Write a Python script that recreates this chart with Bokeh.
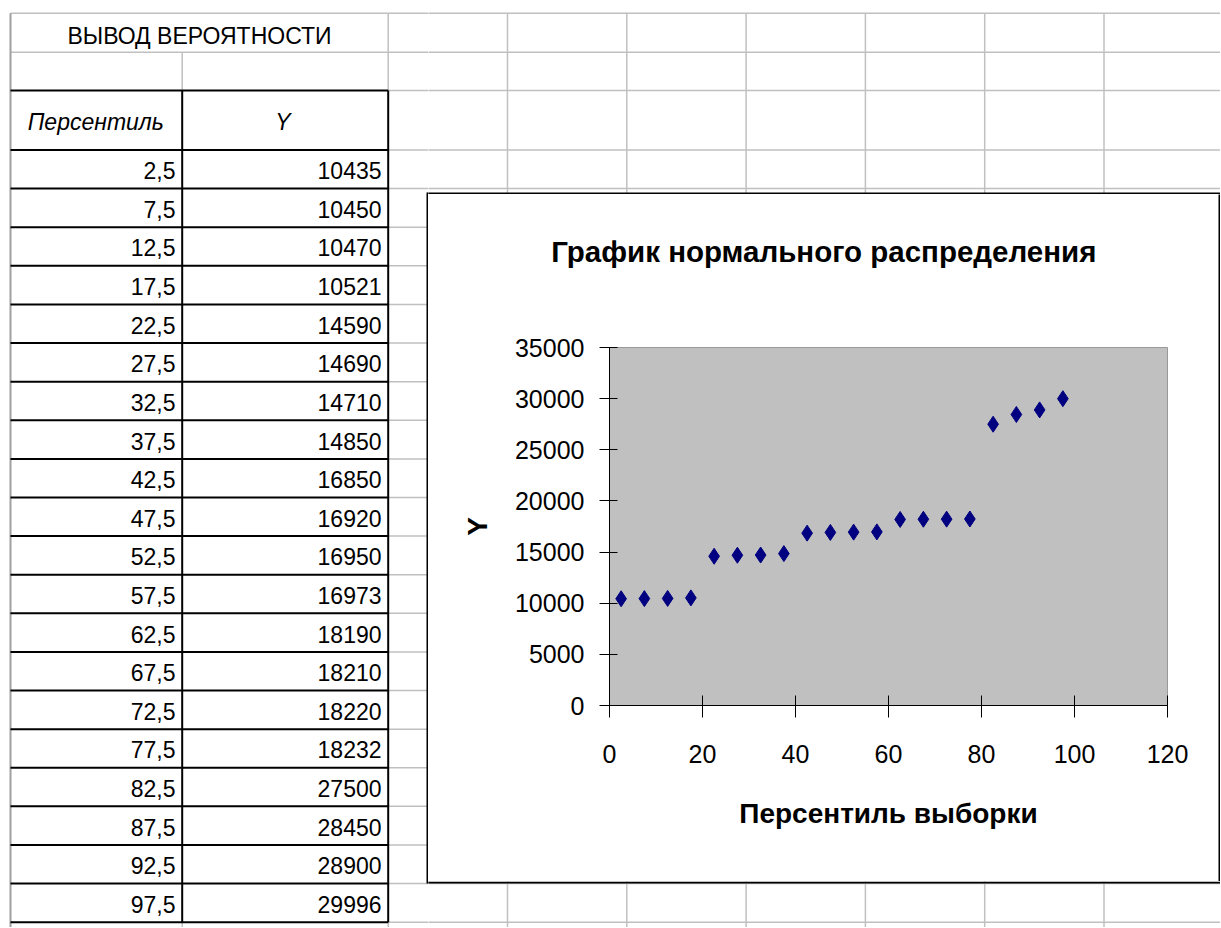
from bokeh.plotting import figure
from bokeh.models import Range1d, ColumnDataSource, FixedTicker, NumeralTickFormatter
from bokeh.layouts import row, column
from bokeh.embed import file_html
from bokeh.resources import INLINE
from bokeh.core.properties import value

# ---------------- data ----------------
percentiles = [2.5, 7.5, 12.5, 17.5, 22.5, 27.5, 32.5, 37.5, 42.5, 47.5,
               52.5, 57.5, 62.5, 67.5, 72.5, 77.5, 82.5, 87.5, 92.5, 97.5]
y_values = [10435, 10450, 10470, 10521, 14590, 14690, 14710, 14850, 16850, 16920,
            16950, 16973, 18190, 18210, 18220, 18232, 27500, 28450, 28900, 29996]
x_ticks = [0, 20, 40, 60, 80, 100, 120]
y_ticks = [0, 5000, 10000, 15000, 20000, 25000, 30000, 35000]
sheet_title = "ВЫВОД ВЕРОЯТНОСТИ"
col_headers = ["Персентиль", "Y"]
chart_title = "График нормального распределения"
x_label = "Персентиль выборки"
y_label = "Y"

# ---------------- page geometry (page pixels) ----------------
W, H = 1220, 927
LEFT_W = 428            # spreadsheet columns A-B and the strip left of the chart box
TOP_H = 194             # rows above the chart box
BOX_R = 1218            # right border of chart box starts here
TITLE_H = 106           # white band with the chart title
CHART_H = 581           # chart figure (axes + plot area)
BOTTOM_Y = TOP_H + TITLE_H + CHART_H   # 881

COL_X = [10, 181.7, 387.7] + [507 + 119.3 * i for i in range(6)]
HEAD_Y = [12.7, 51.7, 90.0]
ROW_H = 38.61
DATA_Y = [149.5 + ROW_H * k for k in range(len(percentiles) + 1)]
TABLE_R = COL_X[2]

GRID = "#c0c0c0"
FONT = "Liberation Sans"
TFS = 23  # table font size

gray_h = [(COL_X[0], y, W, y) for y in HEAD_Y[:2]]
gray_h += [(TABLE_R, y, W, y) for y in [HEAD_Y[2]] + DATA_Y]
black_h = [(COL_X[0], y, TABLE_R, y) for y in [HEAD_Y[2]] + DATA_Y]
gray_v = [(COL_X[1], HEAD_Y[1], COL_X[1], HEAD_Y[2]),
          (COL_X[2], HEAD_Y[0], COL_X[2], HEAD_Y[2]),
          (COL_X[1], DATA_Y[-1], COL_X[1], H),
          (COL_X[2], DATA_Y[-1], COL_X[2], H)]
gray_v += [(x, HEAD_Y[0], x, H) for x in COL_X[3:]]
edge_v = [(COL_X[0], HEAD_Y[0], COL_X[0], H)]
black_v = [(COL_X[1], HEAD_Y[2], COL_X[1], DATA_Y[-1]),
           (COL_X[2], HEAD_Y[2], COL_X[2], DATA_Y[-1])]
box = [(427, 192, 427, 883), (427, 193, W, 193), (427, 882, W, 882)]


def seg_source(segs):
    return ColumnDataSource(dict(x0=[s[0] for s in segs], y0=[s[1] for s in segs],
                                 x1=[s[2] for s in segs], y1=[s[3] for s in segs]))


def fmt_pct(v):
    return ("%.1f" % v).replace(".", ",")


def blank_fig(x0, x1, y0, y1, fill="white"):
    p = figure(width=int(x1 - x0), height=int(y1 - y0),
               x_range=Range1d(x0, x1), y_range=Range1d(y1, y0),
               output_backend="svg", toolbar_location=None, title_location=None,
               x_axis_location=None, y_axis_location=None, min_border=0,
               frame_align=False)
    p.outline_line_color = None
    p.grid.visible = False
    p.background_fill_color = fill
    p.border_fill_color = fill
    return p


def sheet_fig(x0, x1, y0, y1):
    p = blank_fig(x0, x1, y0, y1)
    kw = dict(x0="x0", y0="y0", x1="x1", y1="y1")
    p.segment(source=seg_source(gray_h), line_color=GRID, line_width=1.5, **kw)
    p.segment(source=seg_source(gray_v), line_color=GRID, line_width=1.5, **kw)
    p.segment(source=seg_source(edge_v), line_color="#a0a0a0", line_width=2, **kw)
    p.segment(source=seg_source(black_h), line_color="black", line_width=2, **kw)
    p.segment(source=seg_source(black_v), line_color="black", line_width=2, **kw)
    p.segment(source=seg_source(box), line_color="black", line_width=2, **kw)
    return p


def mid(baseline, size):
    return baseline - 0.35 * size


# ---------------- left part: the table ----------------
left = sheet_fig(0, LEFT_W, 0, H)
tkw = dict(text_baseline="middle", text_font=value(FONT), text_font_size=value("%dpx" % TFS),
           text_color="black")
left.text(x=[199], y=[mid(43.3, TFS)], text=[sheet_title], text_align="center", **tkw)
left.text(x=[95.3, 282.5], y=[mid(130, TFS)] * 2, text=col_headers, text_align="center",
          text_font_style="italic", **tkw)
row_mid = [mid(DATA_Y[k] + 28.8, TFS) for k in range(len(percentiles))]
left.text(x=[175] * len(percentiles), y=row_mid, text=[fmt_pct(v) for v in percentiles],
          text_align="right", **tkw)
left.text(x=[381] * len(y_values), y=row_mid, text=[str(v) for v in y_values],
          text_align="right", **tkw)

top = sheet_fig(LEFT_W, W, 0, TOP_H)
bottom = sheet_fig(LEFT_W, W, BOTTOM_Y, H)
right_edge = blank_fig(BOX_R, W, TOP_H, BOTTOM_Y, fill="black")

# ---------------- chart title band ----------------
title_band = blank_fig(LEFT_W, BOX_R, TOP_H, TOP_H + TITLE_H)
title_band.text(x=[823.3], y=[mid(261.7, 29.5)], text=[chart_title], text_align="center",
                text_baseline="middle", text_font=value(FONT), text_font_size=value("29.5px"),
                text_font_style="bold", text_color="black")

# ---------------- chart ----------------
CHART_W = BOX_R - LEFT_W
FL, FW, FT, FH = 181, 558, 47, 358
chart = figure(width=CHART_W, height=CHART_H, x_range=Range1d(0, 120), y_range=Range1d(0, 35000),
               output_backend="svg", toolbar_location=None, title_location=None,
               min_border_left=FL, min_border_right=CHART_W - FL - FW,
               min_border_top=FT, min_border_bottom=CHART_H - FT - FH,
               frame_align=False)
chart.background_fill_color = "#c0c0c0"
chart.border_fill_color = "white"
chart.outline_line_color = "#999999"
chart.outline_line_width = 1
chart.grid.visible = False

chart.scatter(percentiles, y_values, marker="diamond", size=16,
              fill_color="#000080", line_color="#000080")

xa = chart.xaxis[0]
xa.ticker = FixedTicker(ticks=x_ticks)
xa.axis_line_color = "black"
xa.major_tick_line_color = "black"
xa.minor_tick_line_color = None
xa.major_tick_in = 10
xa.major_tick_out = 12
xa.major_label_standoff = 27
xa.major_label_text_font = FONT
xa.major_label_text_font_size = "25px"
xa.major_label_text_color = "black"
xa.axis_label = x_label
xa.axis_label_text_font = FONT
xa.axis_label_text_font_size = "28px"
xa.axis_label_text_font_style = "bold"
xa.axis_label_text_color = "black"
xa.axis_label_standoff = 32

ya = chart.yaxis[0]
ya.ticker = FixedTicker(ticks=y_ticks)
ya.formatter = NumeralTickFormatter(format="0")
ya.axis_line_color = "black"
ya.major_tick_line_color = "black"
ya.minor_tick_line_color = None
ya.major_tick_in = 8
ya.major_tick_out = 10
ya.major_label_standoff = 15
ya.major_label_text_font = FONT
ya.major_label_text_font_size = "25px"
ya.major_label_text_color = "black"
ya.axis_label = y_label
ya.axis_label_text_font = FONT
ya.axis_label_text_font_size = "28px"
ya.axis_label_text_font_style = "bold"
ya.axis_label_text_color = "black"
ya.axis_label_standoff = 19

layout = row(left,
             column(top,
                    row(column(title_band, chart, spacing=0), right_edge, spacing=0),
                    bottom, spacing=0),
             spacing=0)

open("out.html", "w").write(file_html(layout, INLINE))
